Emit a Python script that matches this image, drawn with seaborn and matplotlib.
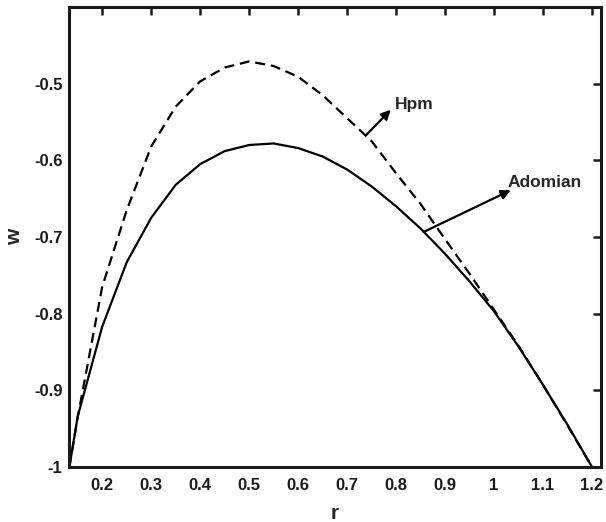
import matplotlib
matplotlib.use("Agg")
import matplotlib.pyplot as plt
import seaborn as sns
import pandas as pd

r = [0.133, 0.15, 0.2, 0.25, 0.3, 0.35, 0.4, 0.45, 0.5, 0.55, 0.6, 0.65,
     0.7, 0.75, 0.8, 0.85, 0.9, 0.95, 1.0, 1.05, 1.1, 1.15, 1.2]
adomian = [-1.0, -0.934, -0.817, -0.733, -0.675, -0.632, -0.605, -0.588,
           -0.580, -0.578, -0.584, -0.595, -0.612, -0.634, -0.660, -0.689,
           -0.722, -0.758, -0.797, -0.843, -0.893, -0.945, -1.0]
hpm = [-1.0, -0.935, -0.765, -0.665, -0.582, -0.530, -0.497, -0.479,
       -0.471, -0.477, -0.491, -0.515, -0.545, -0.575, -0.617, -0.657,
       -0.703, -0.748, -0.795, -0.842, -0.893, -0.946, -1.0]
xticks = [0.2, 0.3, 0.4, 0.5, 0.6, 0.7, 0.8, 0.9, 1.0, 1.1, 1.2]
xticklabels = ["0.2", "0.3", "0.4", "0.5", "0.6", "0.7", "0.8", "0.9", "1", "1.1", "1.2"]
yticks = [-1.0, -0.9, -0.8, -0.7, -0.6, -0.5]
yticklabels = ["-1", "-0.9", "-0.8", "-0.7", "-0.6", "-0.5"]

sns.set_style("white")
plt.rcParams['font.family'] = ['Liberation Sans', 'DejaVu Sans']

df = pd.DataFrame({"r": r, "Adomian": adomian, "Hpm": hpm})

fig = plt.figure(figsize=(6.06, 5.22), dpi=100)
ax = fig.add_axes([0.1145, 0.1054, 0.877, 0.8812])

sns.lineplot(data=df, x="r", y="Hpm", ax=ax, color="black", lw=1.6,
             linestyle=(0, (4.5, 2.6)))
sns.lineplot(data=df, x="r", y="Adomian", ax=ax, color="black", lw=1.6)

ax.set_xlim(0.133, 1.218)
ax.set_ylim(-1.0, -0.4)
ax.set_xticks(xticks)
ax.set_xticklabels(xticklabels)
ax.set_yticks(yticks)
ax.set_yticklabels(yticklabels)

for s in ax.spines.values():
    s.set_linewidth(2.2)
    s.set_color("#1a1a1a")
ax.tick_params(direction="in", length=6, width=1.8, top=True, right=True,
               labelsize=12, colors="#1a1a1a")
ax.tick_params(axis="x", pad=8)
ax.tick_params(axis="y", pad=5)
for lbl in ax.get_xticklabels() + ax.get_yticklabels():
    lbl.set_fontweight("bold")
    lbl.set_color("#1a1a1a")

ax.set_xlabel("r", fontsize=15, fontweight="bold", labelpad=8)
ax.set_ylabel("w", fontsize=15, fontweight="bold", labelpad=7)

ax.annotate("", xy=(0.789, -0.534), xytext=(0.739, -0.567),
            arrowprops=dict(arrowstyle="-|>", color="black", lw=1.6,
                            mutation_scale=14, shrinkA=0, shrinkB=0))
ax.text(0.797, -0.527, "Hpm", fontsize=12.5, fontweight="bold",
        ha="left", va="center")
ax.annotate("", xy=(1.034, -0.639), xytext=(0.856, -0.6935),
            arrowprops=dict(arrowstyle="-|>", color="black", lw=1.6,
                            mutation_scale=14, shrinkA=0, shrinkB=0))
ax.text(1.028, -0.629, "Adomian", fontsize=12.5, fontweight="bold",
        ha="left", va="center")

fig.savefig("out.png", dpi=100)
